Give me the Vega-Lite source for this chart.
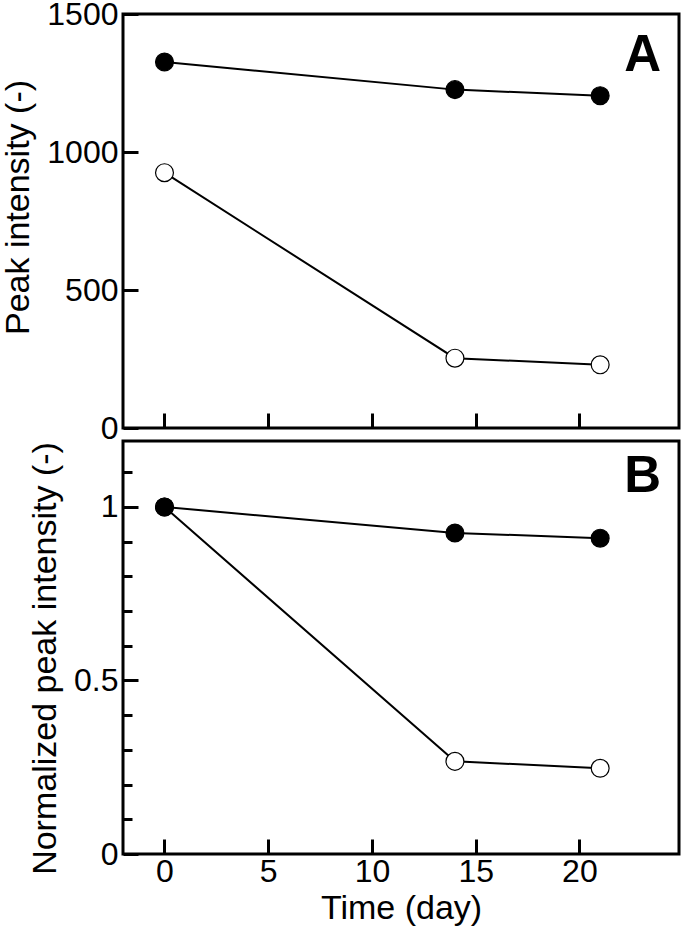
{
  "$schema": "https://vega.github.io/schema/vega-lite/v6.json",
  "background": "white",
  "padding": {"left": 0, "top": -4, "right": 5, "bottom": 0},
  "bounds": "flush",
  "spacing": 13,
  "config": {
    "font": "Liberation Sans",
    "view": {"stroke": "black", "strokeWidth": 3},
    "axis": {
      "domain": false,
      "grid": false,
      "tickColor": "black",
      "tickWidth": 3,
      "labelFont": "Liberation Sans",
      "titleFont": "Liberation Sans",
      "labelFontSize": 32,
      "titleFontSize": 34,
      "titleFontWeight": "normal",
      "labelColor": "black",
      "titleColor": "black",
      "labelOverlap": false,
      "labelFlush": false,
      "labelBound": false
    }
  },
  "datasets": {
    "points": [
      {"panel": "A", "series": "filled", "day": 0, "value": 1326},
      {"panel": "A", "series": "filled", "day": 14, "value": 1226},
      {"panel": "A", "series": "filled", "day": 21, "value": 1204},
      {"panel": "A", "series": "open", "day": 0, "value": 925},
      {"panel": "A", "series": "open", "day": 14, "value": 253},
      {"panel": "A", "series": "open", "day": 21, "value": 229},
      {"panel": "B", "series": "open", "day": 0, "value": 1},
      {"panel": "B", "series": "open", "day": 14, "value": 0.267},
      {"panel": "B", "series": "open", "day": 21, "value": 0.247},
      {"panel": "B", "series": "filled", "day": 0, "value": 1},
      {"panel": "B", "series": "filled", "day": 14, "value": 0.925},
      {"panel": "B", "series": "filled", "day": 21, "value": 0.91}
    ]
  },
  "vconcat": [
    {
      "width": 556,
      "height": 414,
      "layer": [
        {
          "data": {"name": "points"},
          "transform": [{"filter": "datum.panel === 'A'"}],
          "mark": {"type": "line", "color": "black", "strokeWidth": 2},
          "encoding": {
            "x": {"field": "day", "type": "quantitative", "scale": {"domain": [-2, 24.8], "nice": false, "zero": false},
                  "axis": {"values": [0, 5, 10, 15, 20], "labels": false, "title": null, "tickSize": -15}},
            "y": {"field": "value", "type": "quantitative", "scale": {"domain": [0, 1500], "nice": false},
                  "axis": {"values": [0, 500, 1000, 1500], "format": "d", "tickSize": -15, "labelPadding": 20, "title": "Peak intensity (-)", "titlePadding": 11, "titleY": 193}},
            "detail": {"field": "series"}
          }
        },
        {
          "data": {"name": "points"},
          "transform": [{"filter": "datum.panel === 'A'"}],
          "mark": {"type": "point", "filled": true, "size": 320, "opacity": 1, "stroke": "black", "strokeWidth": 1.2},
          "encoding": {
            "x": {"field": "day", "type": "quantitative"},
            "y": {"field": "value", "type": "quantitative"},
            "fill": {"field": "series", "type": "nominal", "scale": {"domain": ["filled", "open"], "range": ["black", "white"]}, "legend": null}
          }
        },
        {
          "data": {"values": [{"label": "A"}]},
          "mark": {"type": "text", "fontSize": 51, "fontWeight": "bold", "font": "Liberation Sans", "color": "black", "baseline": "middle", "align": "center"},
          "encoding": {
            "text": {"field": "label"},
            "x": {"datum": 23.05, "type": "quantitative"},
            "y": {"datum": 1347, "type": "quantitative"}
          }
        }
      ]
    },
    {
      "width": 556,
      "height": 413,
      "layer": [
        {
          "data": {"name": "points"},
          "transform": [{"filter": "datum.panel === 'B'"}],
          "mark": {"type": "line", "color": "black", "strokeWidth": 2},
          "encoding": {
            "x": {"field": "day", "type": "quantitative", "scale": {"domain": [-2, 24.8], "nice": false, "zero": false},
                  "axis": {"values": [0, 5, 10, 15, 20], "tickSize": -15, "labelPadding": 17, "title": "Time (day)", "titlePadding": 4}},
            "y": {"field": "value", "type": "quantitative", "scale": {"domain": [0, 1.19], "nice": false},
                  "axis": {"values": [0, 0.1, 0.2, 0.3, 0.4, 0.5, 0.6, 0.7, 0.8, 0.9, 1, 1.1],
                           "tickCount": 30,
                           "labelExpr": "abs(datum.value*2 - round(datum.value*2)) < 0.001 ? format(datum.value, '~g') : ''",
                           "tickSize": {"condition": {"test": "abs(datum.value*2 - round(datum.value*2)) < 0.001", "value": -15}, "value": -9},
                           "labelPadding": 20, "title": "Normalized peak intensity (-)", "titlePadding": 11, "titleY": 217}},
            "detail": {"field": "series"}
          }
        },
        {
          "data": {"name": "points"},
          "transform": [{"filter": "datum.panel === 'B'"}],
          "mark": {"type": "point", "filled": true, "size": 320, "opacity": 1, "stroke": "black", "strokeWidth": 1.2},
          "encoding": {
            "x": {"field": "day", "type": "quantitative"},
            "y": {"field": "value", "type": "quantitative"},
            "fill": {"field": "series", "type": "nominal", "scale": {"domain": ["filled", "open"], "range": ["black", "white"]}, "legend": null}
          }
        },
        {
          "data": {"values": [{"label": "B"}]},
          "mark": {"type": "text", "fontSize": 51, "fontWeight": "bold", "font": "Liberation Sans", "color": "black", "baseline": "middle", "align": "center"},
          "encoding": {
            "text": {"field": "label"},
            "x": {"datum": 23.05, "type": "quantitative"},
            "y": {"datum": 1.085, "type": "quantitative"}
          }
        }
      ]
    }
  ]
}
